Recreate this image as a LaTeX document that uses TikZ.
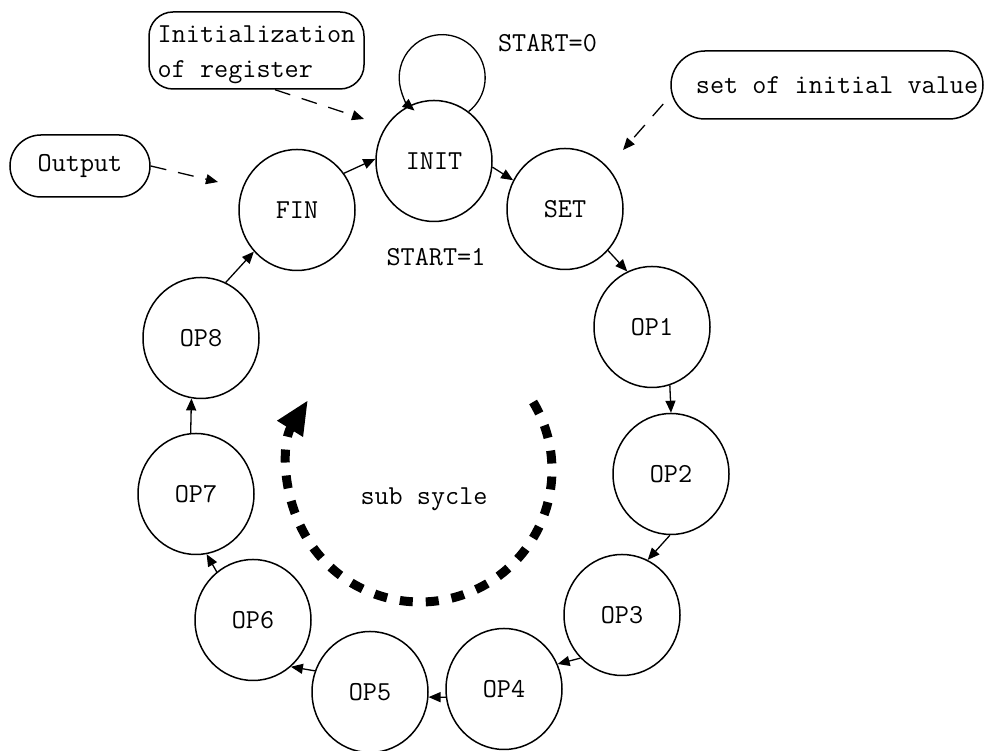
\documentclass[tikz,border=0pt]{standalone}
\usetikzlibrary{shapes.geometric,arrows.meta}
\begin{document}
\begin{tikzpicture}[x=1pt,y=1pt,
  txt/.style={font=\ttfamily\fontsize{27.4}{35}\selectfont},
  state/.style={ellipse, draw, line width=1.5pt, minimum width=116pt, minimum height=121pt, inner sep=0pt, txt},
  callout/.style={draw, line width=1.5pt, rounded corners=#1, inner sep=0pt, txt},
  callout/.default=24pt,
  flow/.style={-{Triangle[length=12pt,width=10pt]}, line width=1.3pt},
  note/.style={flow, dash pattern=on 16pt off 12pt},
  subcyc/.style={line width=9pt, dash pattern=on 13pt off 13pt, -{Triangle[length=34pt,width=28pt]}}
]
\useasboundingbox (0,0) rectangle (986,751);

% states
\node[state] (INIT) at (434,590) {INIT};
\node[state] (SET)  at (565,542) {SET};
\node[state] (FIN)  at (297,541) {FIN};
\node[state] (OP1)  at (652,424) {OP1};
\node[state] (OP2)  at (671,277) {OP2};
\node[state] (OP3)  at (622,136) {OP3};
\node[state] (OP4)  at (504,62)  {OP4};
\node[state] (OP5)  at (370,59)  {OP5};
\node[state] (OP6)  at (253,131) {OP6};
\node[state] (OP7)  at (196,257) {OP7};
\node[state] (OP8)  at (201,413) {OP8};

% callouts
\node[callout=24pt, minimum width=215pt, minimum height=77pt, align=left] (initbox) at (256.5,700.5)
  {\rule{0pt}{25pt}Initialization\\of register};
\node[callout=34pt, minimum width=312pt, minimum height=68pt] (setbox) at (827,666)
  {\hspace*{20pt}set of initial value};
\node[callout=31pt, minimum width=140pt, minimum height=62pt] (outbox) at (80,585) {Output};

% labels
\node[txt, anchor=base] (s0) at (547.5,699.3) {START=0};
\node[txt, anchor=base] (s1) at (436,485) {START=1};
\node[txt, anchor=base] (sub) at (424,246) {sub sycle};

% main cycle
\draw[flow] (FIN.38)   -- (INIT.178);
\draw[flow] (INIT.-6)  -- (SET.151);
\draw[flow] (SET.-44)  -- (OP1.114);
\draw[flow] (OP1.-73)  -- (OP2.90);
\draw[flow] (OP2.-91)  -- (OP3.65);
\draw[flow] (OP3.-134) -- (OP4.25);
\draw[flow] (OP4.188)  -- (OP5.-5);
\draw[flow] (OP5.159)  -- (OP6.-51);
\draw[flow] (OP6.127)  -- (OP7.-80);
\draw[flow] (OP7.95)   -- (OP8.-99);
\draw[flow] (OP8.66)   -- (FIN.224);

% self loop
\draw[flow] (INIT.55) arc[start angle=-52, end angle=230, radius=43];

% callout pointers
\coordinate (p1) at (364,632);
\coordinate (p2) at (623,601);
\coordinate (p3) at (218,569);
\draw[note] ([xshift=18.5pt]initbox.south) -- (p1);
\draw[note] ([xshift=-7pt,yshift=-19pt]setbox.west) -- (p2);
\draw[note] (outbox.east) -- (p3);

% sub cycle arrow
\draw[subcyc] (533.1,349.0) arc[start angle=31, end angle=-212, radius=132];
\end{tikzpicture}
\end{document}
